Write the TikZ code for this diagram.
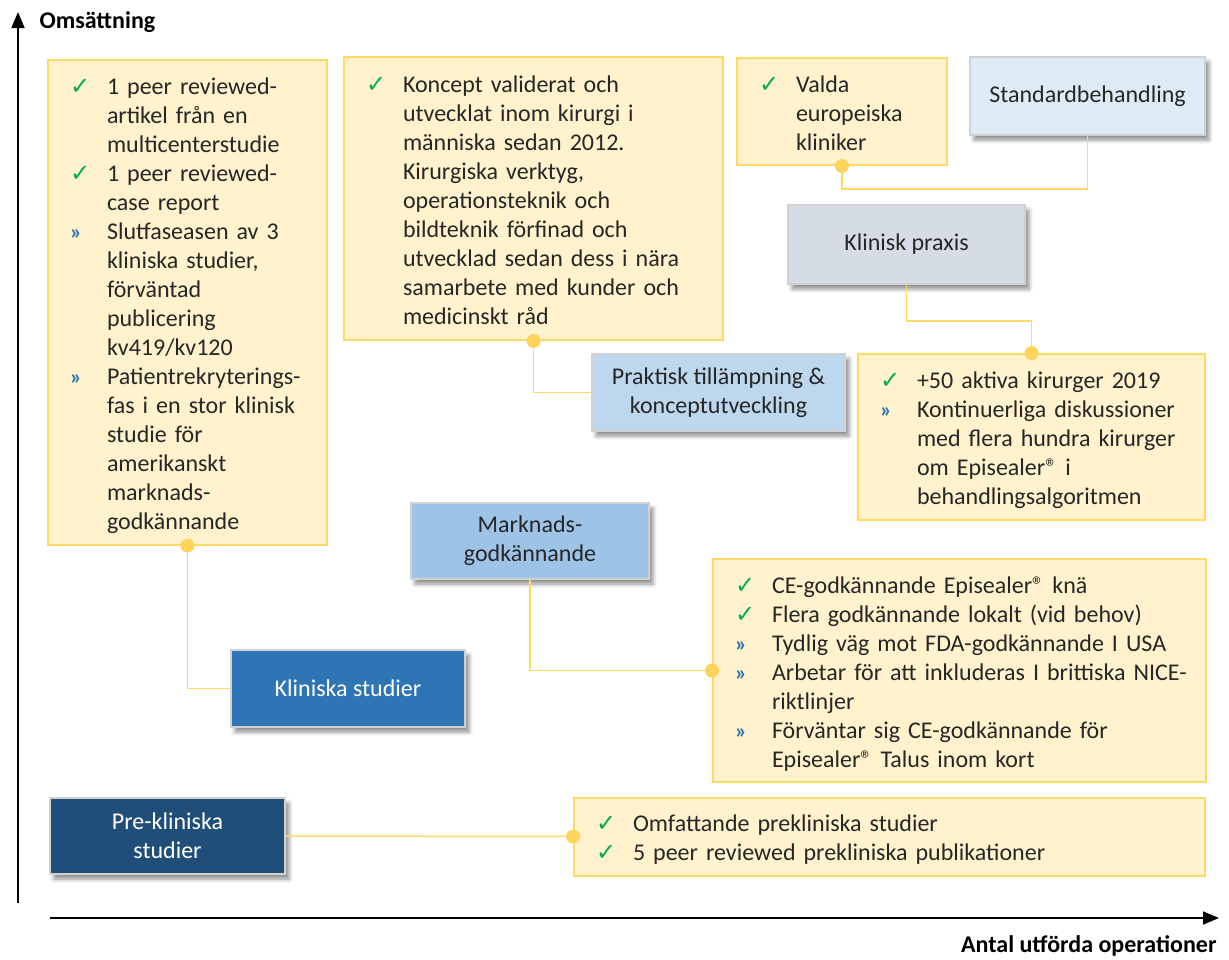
\documentclass[tikz,border=0pt]{standalone}
\usepackage{fontspec}
\setmainfont{Carlito}
\newfontfamily\symfont{DejaVu Sans}
\usepackage{xcolor}
\usetikzlibrary{arrows.meta, shadows.blur, calc}
\definecolor{boxfill}{HTML}{FFF2CC}
\definecolor{boxline}{HTML}{FFD966}
\definecolor{dotyel}{HTML}{FFD45C}
\definecolor{okgreen}{HTML}{00B050}
\definecolor{nxtblue}{HTML}{2E75B6}
\definecolor{txtgray}{HTML}{262626}
\definecolor{stdblue}{HTML}{DEEBF7}
\definecolor{praxgray}{HTML}{D6DCE5}
\definecolor{applblue}{HTML}{BDD7EE}
\definecolor{mktblue}{HTML}{9DC3E6}
\definecolor{clinblue}{HTML}{2E75B6}
\definecolor{preblue}{HTML}{1F4E79}

\newcommand{\ok}{\textcolor{okgreen}{\symfont\fontsize{24}{24}\selectfont ✓}}
\newcommand{\nxt}{\textcolor{nxtblue}{\fontsize{22}{22}\selectfont\bfseries »}}
\newcommand{\regm}{®}
\newcommand{\milestones}[1]{\raisebox{-4pt}[\height][\depth]{\begin{tabular}{@{}p{37pt}@{}l@{}}#1\end{tabular}}}

\tikzset{
  yelbox/.style={draw=boxline, line width=2pt, fill=boxfill, inner xsep=22pt, inner ysep=0pt, align=left},
  blubox/.style={draw=black!18, line width=2pt, inner sep=0pt, align=center, text=txtgray,
    blur shadow={shadow xshift=4pt, shadow yshift=-5pt, shadow blur radius=4pt, shadow opacity=45}},
  conn/.style={draw=boxline, line width=1.5pt},
  dot/.style={circle, fill=dotyel, inner sep=0pt, minimum size=14pt},
  axisline/.style={line width=1.6pt, -{Triangle[length=16pt, width=13pt]}}
}

\begin{document}
\begin{tikzpicture}[x=1pt, y=-1pt, every node/.style={font=\fontsize{24}{29}\selectfont, text=txtgray}]
  \useasboundingbox (0,0) rectangle (1229,959);

  % axes
  \coordinate (yaxbot) at (18,903);
  \coordinate (yaxtop) at (18,12);
  \coordinate (xaxleft) at (50,918);
  \coordinate (xaxright) at (1219,918);
  \draw[axisline] (yaxbot) -- (yaxtop);
  \draw[axisline] (xaxleft) -- (xaxright);
  \node[anchor=west, text=black, font=\fontsize{24}{29}\selectfont\bfseries] (ylab) at (36,22) {Omsättning};
  \node[anchor=east, text=black, font=\fontsize{24}{29}\selectfont\bfseries] (xlab) at (1220,946) {Antal utförda operationer};

  % stages
  \node[blubox, fill=stdblue, minimum width=235pt, minimum height=78pt] (std) at (1087.5,96) {Standardbehandling};
  \node[blubox, fill=praxgray, minimum width=237pt, minimum height=79pt] (praxis) at (906.5,244.5) {Klinisk praxis};
  \node[blubox, fill=applblue, minimum width=253pt, minimum height=77pt] (appl) at (718.5,392.5) {Praktisk tillämpning \&\\konceptutveckling};
  \node[blubox, fill=mktblue, minimum width=238pt, minimum height=76pt] (mkt) at (530,541) {Marknads-\\godkännande};
  \node[blubox, fill=clinblue, text=white, minimum width=234pt, minimum height=77pt] (clin) at (348,688.5) {Kliniska studier};
  \node[blubox, fill=preblue, text=white, minimum width=235pt, minimum height=76pt] (precl) at (167.5,836) {Pre-kliniska\\studier};

  % milestones
  \node[yelbox, text width=235pt, minimum height=485pt] (studies) at (187.5,302) {\milestones{%
      \ok & 1 peer reviewed-\\
          & artikel från en\\
          & multicenterstudie\\
      \ok & 1 peer reviewed-\\
          & case report\\
      \nxt & Slutfaseasen av 3\\
          & kliniska studier,\\
          & förväntad\\
          & publicering\\
          & kv419/kv120\\
      \nxt & Patientrekryterings-\\
          & fas i en stor klinisk\\
          & studie för\\
          & amerikanskt\\
          & marknads-\\
          & godkännande}};
  \node[yelbox, text width=335pt, minimum height=283pt] (concept) at (533.5,198.5) {\milestones{%
      \ok & Koncept validerat och\\
          & utvecklat inom kirurgi i\\
          & människa sedan 2012.\\
          & Kirurgiska verktyg,\\
          & operationsteknik och\\
          & bildteknik förfinad och\\
          & utvecklad sedan dess i nära\\
          & samarbete med kunder och\\
          & medicinskt råd}};
  \node[yelbox, text width=166pt, minimum height=107pt] (clinics) at (842,111.5) {\milestones{%
      \ok & Valda\\
          & europeiska\\
          & kliniker}};
  \node[yelbox, text width=303pt, minimum height=166pt] (surgeons) at (1031.5,437) {\milestones{%
      \ok & +50 aktiva kirurger 2019\\
      \nxt & Kontinuerliga diskussioner\\
          & med flera hundra kirurger\\
          & om Episealer\regm{} i\\
          & behandlingsalgoritmen}};
  \node[yelbox, text width=449pt, minimum height=223pt] (approval) at (959.5,670.5) {\milestones{%
      \ok & CE-godkännande Episealer\regm{} knä\\
      \ok & Flera godkännande lokalt (vid behov)\\
      \nxt & Tydlig väg mot FDA-godkännande I USA\\
      \nxt & Arbetar för att inkluderas I brittiska NICE-\\
          & riktlinjer\\
      \nxt & Förväntar sig CE-godkännande för\\
          & Episealer\regm{} Talus inom kort}};
  \node[yelbox, text width=587pt, minimum height=78pt] (preclin) at (889.5,836.5) {\milestones{%
      \ok & Omfattande prekliniska studier\\
      \ok & 5 peer reviewed prekliniska publikationer}};

  % connectors
  \draw[conn] (studies.south) |- (clin.west);
  \draw[conn] (concept.south) |- (appl.west);
  \draw[conn] (clinics.south) -- ++(0,23) -| (std.south);
  \draw[conn] (praxis.south) -- ++(0,36) -| (surgeons.north);
  \draw[conn] (mkt.south) |- (approval.west);
  \draw[conn] (precl.east) -- (preclin.west);

  \node[dot] (d1) at (studies.south) {};
  \node[dot] (d2) at (concept.south) {};
  \node[dot] (d3) at (clinics.south) {};
  \node[dot] (d4) at (surgeons.north) {};
  \node[dot] (d5) at (approval.west) {};
  \node[dot] (d6) at (preclin.west) {};
\end{tikzpicture}
\end{document}
